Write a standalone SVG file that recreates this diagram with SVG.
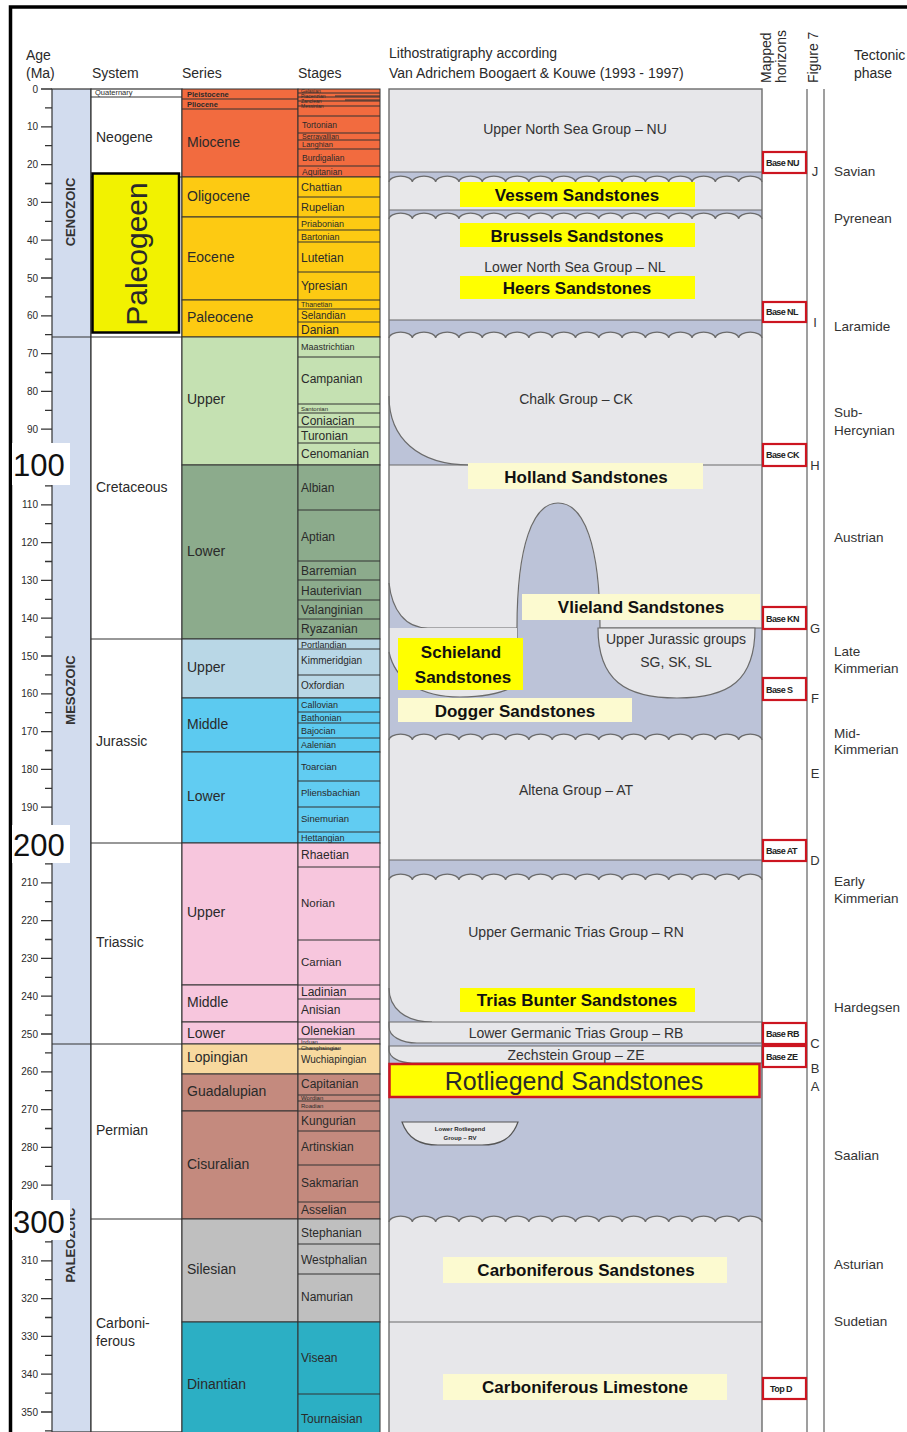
<svg xmlns="http://www.w3.org/2000/svg" xmlns:xlink="http://www.w3.org/1999/xlink" width="907" height="1432" viewBox="0 0 907 1432">
<defs>
<style>
text{font-family:"Liberation Sans",Arial,sans-serif;fill:#2a2a2a}
.hd{font-size:14px}
.ax{font-size:10px;text-anchor:end}
.er{font-size:13px;font-weight:bold;fill:#333}
.sy{font-size:14px}
.sr{font-size:14px}
.st{font-size:11px}
.cell{stroke:#333;stroke-width:1}
.neo{fill:#f26b3f}
.pal{fill:#fdca12}
.ucr{fill:#c5e1b2}
.lcr{fill:#8cab8c}
.uju{fill:#b9d7e6}
.mju{fill:#5ccaf0}
.lju{fill:#61ccf2}
.tri{fill:#f7c6dd}
.lop{fill:#f8d99f}
.per{fill:#c48a7e}
.sil{fill:#bfbfbf}
.din{fill:#2cafc4}
.gr{fill:#e7e7ea}
.bl{fill:#bcc3d8}
.ln{stroke:#6b6b6b;stroke-width:1.2;fill:none}
.wave{fill:#e7e7ea;stroke:#6b6b6b;stroke-width:1.2}
.gtx{font-size:14px;text-anchor:middle;fill:#333}
.sand{font-size:17px;font-weight:bold;text-anchor:middle;fill:#111}
.yb{fill:#ffff00}
.lyb{fill:#fcfad0}
.hz{fill:#fff;stroke:#cc1520;stroke-width:2.2}
.hzt{font-size:9px;font-weight:bold;fill:#222;letter-spacing:-0.6px}
.fg{font-size:13px;text-anchor:middle;fill:#333}
.tp{font-size:13.5px;fill:#333}
.big{font-size:31px;fill:#111}
</style>
<path id="wv" d="M0,0a11.66,6 0 0 1 23.31,0a11.66,6 0 0 1 23.31,0a11.66,6 0 0 1 23.31,0a11.66,6 0 0 1 23.31,0a11.66,6 0 0 1 23.31,0a11.66,6 0 0 1 23.31,0a11.66,6 0 0 1 23.31,0a11.66,6 0 0 1 23.31,0a11.66,6 0 0 1 23.31,0a11.66,6 0 0 1 23.31,0a11.66,6 0 0 1 23.31,0a11.66,6 0 0 1 23.31,0a11.66,6 0 0 1 23.31,0a11.66,6 0 0 1 23.31,0a11.66,6 0 0 1 23.31,0a11.66,6 0 0 1 23.31,0"/>
</defs>
<rect width="907" height="1432" fill="#fff"/>
<path d="M10.5,1432V7H907" fill="none" stroke="#000" stroke-width="3.5"/>

<g id="headers">
<text class="hd" x="26" y="60">Age</text>
<text class="hd" x="26" y="78">(Ma)</text>
<text class="hd" x="92" y="78">System</text>
<text class="hd" x="182" y="78">Series</text>
<text class="hd" x="298" y="78">Stages</text>
<text class="hd" x="389" y="58">Lithostratigraphy according</text>
<text class="hd" x="389" y="78">Van Adrichem Boogaert &amp; Kouwe (1993 - 1997)</text>
<text class="hd" font-size="13" transform="translate(771,83) rotate(-90)">Mapped</text>
<text class="hd" font-size="13" transform="translate(786,83) rotate(-90)">horizons</text>
<text class="hd" font-size="13" transform="translate(818,83) rotate(-90)">Figure 7</text>
<text class="hd" x="854" y="60">Tectonic</text>
<text class="hd" x="854" y="78">phase</text>
</g>

<g id="age-axis">
<path stroke="#333" stroke-width="1.3" fill="none" d="M41,89H52M45,107.9H52M41,126.8H52M45,145.7H52M41,164.6H52M45,183.5H52M41,202.4H52M45,221.3H52M41,240.2H52M45,259.1H52M41,278H52M45,296.9H52M41,315.8H52M45,334.7H52M41,353.6H52M45,372.5H52M41,391.4H52M45,410.3H52M41,429.2H52M45,448.1H52M41,467H52M45,485.9H52M41,504.8H52M45,523.7H52M41,542.6H52M45,561.5H52M41,580.4H52M45,599.3H52M41,618.2H52M45,637.1H52M41,656H52M45,674.9H52M41,693.8H52M45,712.7H52M41,731.6H52M45,750.5H52M41,769.4H52M45,788.3H52M41,807.2H52M45,826.1H52M41,845H52M45,863.9H52M41,882.8H52M45,901.7H52M41,920.6H52M45,939.5H52M41,958.4H52M45,977.3H52M41,996.2H52M45,1015.1H52M41,1034H52M45,1052.9H52M41,1071.8H52M45,1090.7H52M41,1109.6H52M45,1128.5H52M41,1147.4H52M45,1166.3H52M41,1185.2H52M45,1204.1H52M41,1223H52M45,1241.9H52M41,1260.8H52M45,1279.7H52M41,1298.6H52M45,1317.5H52M41,1336.4H52M45,1355.3H52M41,1374.2H52M45,1393.1H52M41,1412H52M45,1430.9H52"/>
<text class="ax" x="38" y="92.5">0</text>
<text class="ax" x="38" y="130.3">10</text>
<text class="ax" x="38" y="168.1">20</text>
<text class="ax" x="38" y="205.9">30</text>
<text class="ax" x="38" y="243.7">40</text>
<text class="ax" x="38" y="281.5">50</text>
<text class="ax" x="38" y="319.3">60</text>
<text class="ax" x="38" y="357.1">70</text>
<text class="ax" x="38" y="394.9">80</text>
<text class="ax" x="38" y="432.7">90</text>
<text class="ax" x="38" y="508.3">110</text>
<text class="ax" x="38" y="546.1">120</text>
<text class="ax" x="38" y="583.9">130</text>
<text class="ax" x="38" y="621.7">140</text>
<text class="ax" x="38" y="659.5">150</text>
<text class="ax" x="38" y="697.3">160</text>
<text class="ax" x="38" y="735.1">170</text>
<text class="ax" x="38" y="772.9">180</text>
<text class="ax" x="38" y="810.7">190</text>
<text class="ax" x="38" y="886.3">210</text>
<text class="ax" x="38" y="924.1">220</text>
<text class="ax" x="38" y="961.9">230</text>
<text class="ax" x="38" y="999.7">240</text>
<text class="ax" x="38" y="1037.5">250</text>
<text class="ax" x="38" y="1075.3">260</text>
<text class="ax" x="38" y="1113.1">270</text>
<text class="ax" x="38" y="1150.9">280</text>
<text class="ax" x="38" y="1188.7">290</text>
<text class="ax" x="38" y="1264.3">310</text>
<text class="ax" x="38" y="1302.1">320</text>
<text class="ax" x="38" y="1339.9">330</text>
<text class="ax" x="38" y="1377.7">340</text>
<text class="ax" x="38" y="1415.5">350</text>
</g>

<g id="erathem">
<rect x="52" y="89" width="39" height="1343" fill="#d2dcee" stroke="#333" stroke-width="1.2"/>
<path d="M52,337H91M52,1044H91" stroke="#333" stroke-width="1.2"/>
<text class="er" transform="translate(75,212) rotate(-90)" text-anchor="middle">CENOZOIC</text>
<text class="er" transform="translate(75,690) rotate(-90)" text-anchor="middle">MESOZOIC</text>
<text class="er" transform="translate(75,1245) rotate(-90)" text-anchor="middle">PALEOZOIC</text>
</g>

<g id="system">
<rect x="91" y="89" width="91" height="1343" fill="#fff" stroke="#333" stroke-width="1.2"/>
<path d="M91,97H182M91,177H182M91,337H182M91,639H182M91,843H182M91,1044H182M91,1219H182" stroke="#333" stroke-width="1.2"/>
<text x="95" y="95" font-size="7.5">Quaternary</text>
<text class="sy" x="96" y="142">Neogene</text>
<rect x="92.5" y="173.5" width="86.5" height="159" fill="#f2f200" stroke="#000" stroke-width="2.5"/>
<text transform="translate(147,254) rotate(-90)" text-anchor="middle" font-size="30" fill="#111">Paleogeen</text>
<text class="sy" x="96" y="492">Cretaceous</text>
<text class="sy" x="96" y="746">Jurassic</text>
<text class="sy" x="96" y="947">Triassic</text>
<text class="sy" x="96" y="1135">Permian</text>
<text class="sy" x="96" y="1328">Carboni-</text>
<text class="sy" x="96" y="1346">ferous</text>
</g>

<g id="series">
<rect class="cell neo" x="182" y="89" width="116" height="88"/>
<path d="M182,99H298M182,109H298" stroke="#333"/>
<text x="187" y="97" font-size="7.5" font-weight="bold">Pleistocene</text>
<text x="187" y="107" font-size="7.5" font-weight="bold">Pliocene</text>
<text class="sr" x="187" y="147">Miocene</text>
<rect class="cell pal" x="182" y="177" width="116" height="40"/>
<text class="sr" x="187" y="201">Oligocene</text>
<rect class="cell pal" x="182" y="217" width="116" height="83"/>
<text class="sr" x="187" y="262">Eocene</text>
<rect class="cell pal" x="182" y="300" width="116" height="37"/>
<text class="sr" x="187" y="322">Paleocene</text>
<rect class="cell ucr" x="182" y="337" width="116" height="128"/>
<text class="sr" x="187" y="404">Upper</text>
<rect class="cell lcr" x="182" y="465" width="116" height="174"/>
<text class="sr" x="187" y="556">Lower</text>
<rect class="cell uju" x="182" y="639" width="116" height="59"/>
<text class="sr" x="187" y="672">Upper</text>
<rect class="cell mju" x="182" y="698" width="116" height="54"/>
<text class="sr" x="187" y="729">Middle</text>
<rect class="cell lju" x="182" y="752" width="116" height="91"/>
<text class="sr" x="187" y="801">Lower</text>
<rect class="cell tri" x="182" y="843" width="116" height="142"/>
<text class="sr" x="187" y="917">Upper</text>
<rect class="cell tri" x="182" y="985" width="116" height="37"/>
<text class="sr" x="187" y="1007">Middle</text>
<rect class="cell tri" x="182" y="1022" width="116" height="22"/>
<text class="sr" x="187" y="1038">Lower</text>
<rect class="cell lop" x="182" y="1044" width="116" height="30"/>
<text class="sr" x="187" y="1062">Lopingian</text>
<rect class="cell per" x="182" y="1074" width="116" height="37"/>
<text class="sr" x="187" y="1096">Guadalupian</text>
<rect class="cell per" x="182" y="1111" width="116" height="108"/>
<text class="sr" x="187" y="1169">Cisuralian</text>
<rect class="cell sil" x="182" y="1219" width="116" height="103"/>
<text class="sr" x="187" y="1274">Silesian</text>
<rect class="cell din" x="182" y="1322" width="116" height="112"/>
<text class="sr" x="187" y="1389">Dinantian</text>
</g>

<g id="stages">
<rect class="cell neo" x="298" y="89" width="82" height="88"/>
<path class="cell" d="M298,93H380M298,97H380M298,101H380M298,106H380M298,116H380M298,133H380M298,140H380M298,149H380M298,166H380M335,96H380M345,100H380" fill="none"/>
<text x="301" y="93" font-size="5">Gelasian</text>
<text x="301" y="98" font-size="5">Piacenzian</text>
<text x="301" y="103" font-size="5">Zanclean</text>
<text x="301" y="108" font-size="5">Messinian</text>
<text x="302" y="128" font-size="8.5">Tortonian</text>
<text x="302" y="139" font-size="7">Serravallian</text>
<text x="302" y="147" font-size="7.5">Langhian</text>
<text x="302" y="161" font-size="8.5">Burdigalian</text>
<text x="302" y="175" font-size="8.5">Aquitanian</text>

<rect class="cell pal" x="298" y="177" width="82" height="160"/>
<path class="cell" d="M298,197H380M298,217H380M298,230H380M298,242H380M298,272H380M298,300H380M298,309H380M298,322H380" fill="none"/>
<text class="st" x="301" y="191" font-size="12">Chattian</text>
<text class="st" x="301" y="211" font-size="12">Rupelian</text>
<text x="301" y="227" font-size="9">Priabonian</text>
<text x="301" y="240" font-size="9">Bartonian</text>
<text x="301" y="262" font-size="12">Lutetian</text>
<text x="301" y="290" font-size="12">Ypresian</text>
<text x="301" y="307" font-size="7">Thanetian</text>
<text x="301" y="319" font-size="10">Selandian</text>
<text x="301" y="334" font-size="12">Danian</text>

<rect class="cell ucr" x="298" y="337" width="82" height="128"/>
<path class="cell" d="M298,357H380M298,404H380M298,413H380M298,427H380M298,443H380" fill="none"/>
<text x="301" y="350" font-size="9">Maastrichtian</text>
<text x="301" y="383" font-size="12">Campanian</text>
<text x="301" y="411" font-size="6">Santonian</text>
<text x="301" y="425" font-size="12">Coniacian</text>
<text x="301" y="440" font-size="12">Turonian</text>
<text x="301" y="458" font-size="12">Cenomanian</text>

<rect class="cell lcr" x="298" y="465" width="82" height="174"/>
<path class="cell" d="M298,510H380M298,561H380M298,580H380M298,600H380M298,619H380" fill="none"/>
<text x="301" y="492" font-size="12">Albian</text>
<text x="301" y="541" font-size="12">Aptian</text>
<text x="301" y="575" font-size="12">Barremian</text>
<text x="301" y="595" font-size="12">Hauterivian</text>
<text x="301" y="614" font-size="12">Valanginian</text>
<text x="301" y="633" font-size="12">Ryazanian</text>

<rect class="cell uju" x="298" y="639" width="82" height="59"/>
<path class="cell" d="M298,649H380M298,675H380" fill="none"/>
<text x="301" y="648" font-size="9">Portlandian</text>
<text x="301" y="664" font-size="10">Kimmeridgian</text>
<text x="301" y="689" font-size="10">Oxfordian</text>
<rect class="cell mju" x="298" y="698" width="82" height="54"/>
<path class="cell" d="M298,712H380M298,723H380M298,738H380" fill="none"/>
<text x="301" y="708" font-size="9">Callovian</text>
<text x="301" y="721" font-size="9">Bathonian</text>
<text x="301" y="734" font-size="9">Bajocian</text>
<text x="301" y="748" font-size="9">Aalenian</text>
<rect class="cell lju" x="298" y="752" width="82" height="91"/>
<path class="cell" d="M298,781H380M298,807H380M298,832H380" fill="none"/>
<text x="301" y="770" font-size="9.5">Toarcian</text>
<text x="301" y="796" font-size="9.5">Pliensbachian</text>
<text x="301" y="822" font-size="9.5">Sinemurian</text>
<text x="301" y="841" font-size="9">Hettangian</text>

<rect class="cell tri" x="298" y="843" width="82" height="201"/>
<path class="cell" d="M298,867H380M298,940H380M298,985H380M298,999H380M298,1022H380M298,1039H380" fill="none"/>
<text x="301" y="859" font-size="12">Rhaetian</text>
<text x="301" y="907" font-size="11.5">Norian</text>
<text x="301" y="966" font-size="11.5">Carnian</text>
<text x="301" y="996" font-size="12">Ladinian</text>
<text x="301" y="1014" font-size="12">Anisian</text>
<text x="301" y="1035" font-size="12">Olenekian</text>
<text x="301" y="1044" font-size="5.5">Induan</text>

<rect class="cell lop" x="298" y="1044" width="82" height="30"/>
<path class="cell" d="M298,1049H340" fill="none"/>
<text x="301" y="1050" font-size="6">Changhsingian</text>
<text x="301" y="1063" font-size="10">Wuchiapingian</text>
<rect class="cell per" x="298" y="1074" width="82" height="145"/>
<path class="cell" d="M298,1095H380M298,1101H380M298,1111H380M298,1131H380M298,1165H380M298,1202H380" fill="none"/>
<text x="301" y="1088" font-size="12">Capitanian</text>
<text x="301" y="1100" font-size="6">Wordian</text>
<text x="301" y="1108" font-size="6">Roadian</text>
<text x="301" y="1125" font-size="12">Kungurian</text>
<text x="301" y="1151" font-size="12">Artinskian</text>
<text x="301" y="1187" font-size="12">Sakmarian</text>
<text x="301" y="1214" font-size="12">Asselian</text>

<rect class="cell sil" x="298" y="1219" width="82" height="103"/>
<path class="cell" d="M298,1244H380M298,1274H380" fill="none"/>
<text x="301" y="1237" font-size="12">Stephanian</text>
<text x="301" y="1264" font-size="12">Westphalian</text>
<text x="301" y="1301" font-size="12">Namurian</text>
<rect class="cell din" x="298" y="1322" width="82" height="112"/>
<path class="cell" d="M298,1394H380" fill="none"/>
<text x="301" y="1362" font-size="12">Visean</text>
<text x="301" y="1423" font-size="12">Tournaisian</text>
</g>

<g id="litho">
<rect class="gr" x="389" y="89" width="373" height="1343"/>
<rect class="bl" x="389" y="172" width="373" height="10"/>
<use xlink:href="#wv" href="#wv" class="wave" x="389" y="182"/>
<rect class="bl" x="389" y="210" width="373" height="9"/>
<use xlink:href="#wv" href="#wv" class="wave" x="389" y="219"/>
<rect class="bl" x="389" y="320" width="373" height="18"/>
<use xlink:href="#wv" href="#wv" class="wave" x="389" y="338"/>
<path class="ln" d="M389,172H762M389,210H762M389,320H762"/>
<path class="bl" d="M389,396C389,438 418,465 470,465H389Z"/>
<path class="ln" d="M389,396C389,438 418,465 470,465"/>
<path class="ln" d="M389,465H762"/>
<rect class="bl" x="389" y="628" width="373" height="112"/>
<path class="bl" d="M389,583C392,610 405,628 428,628H389Z"/>
<path class="ln" d="M389,583C392,610 405,628 428,628H517M600,628H762"/>
<path class="bl" d="M517,640C517,545 533,503 558,503C584,503 600,545 600,640Z"/>
<path class="ln" d="M517,690V628C517,545 533,503 558,503C584,503 600,545 600,628"/>
<path class="gr" d="M389,628H517V684C505,693 485,697 460,697C420,697 395,680 389,652Z"/>
<path class="ln" d="M389,652C395,680 420,697 460,697C485,697 505,693 517,684"/>
<path class="gr" d="M598,628C598,680 625,698 677,698C730,698 755,680 755,628Z" stroke="#6b6b6b" stroke-width="1.2"/>
<use xlink:href="#wv" href="#wv" class="wave" x="389" y="740"/>
<rect class="bl" x="389" y="860" width="373" height="20"/>
<use xlink:href="#wv" href="#wv" class="wave" x="389" y="880"/>
<path class="ln" d="M389,860H762"/>
<rect class="bl" x="389" y="1022" width="373" height="200"/>
<path class="bl" d="M389,988C389,1008 405,1022 432,1022H389Z"/>
<path class="ln" d="M389,988C389,1008 405,1022 432,1022"/>
<path class="gr" d="M389,1022H762V1043H417C401,1043 389,1036 389,1027Z" stroke="#6b6b6b" stroke-width="1.2"/>
<path class="gr" d="M389,1046H762V1063H412C399,1063 389,1057 389,1050Z" stroke="#6b6b6b" stroke-width="1.2"/>
<use xlink:href="#wv" href="#wv" class="wave" x="389" y="1222"/>
<path class="gr" d="M402,1122H518C512,1139 500,1145 482,1145H438C420,1145 408,1139 402,1122Z" stroke="#555" stroke-width="1.2"/>
<path class="ln" d="M389,1322H762"/>
<rect x="389" y="89" width="373" height="1350" fill="none" stroke="#6b6b6b" stroke-width="1.4"/>
</g>

<g id="litho-labels">
<text class="gtx" x="575" y="134">Upper North Sea Group – NU</text>
<rect class="yb" x="460" y="182" width="235" height="25"/>
<text class="sand" x="577" y="201">Vessem  Sandstones</text>
<rect class="yb" x="460" y="223" width="235" height="24"/>
<text class="sand" x="577" y="242">Brussels  Sandstones</text>
<text class="gtx" x="575" y="272" font-size="13">Lower North Sea Group – NL</text>
<rect class="yb" x="460" y="276" width="235" height="23"/>
<text class="sand" x="577" y="294">Heers  Sandstones</text>
<text class="gtx" x="576" y="404">Chalk Group – CK</text>
<rect class="lyb" x="468" y="463" width="235" height="26"/>
<text class="sand" x="586" y="483">Holland  Sandstones</text>
<rect class="lyb" x="522" y="594" width="238" height="26"/>
<text class="sand" x="641" y="613">Vlieland  Sandstones</text>
<text class="gtx" x="676" y="644" font-size="13.5">Upper Jurassic groups</text>
<text class="gtx" x="676" y="667" font-size="13.5">SG, SK, SL</text>
<rect class="yb" x="398" y="638" width="125" height="52"/>
<text class="sand" x="461" y="658">Schieland</text>
<text class="sand" x="463" y="683">Sandstones</text>
<rect class="lyb" x="398" y="698" width="234" height="24"/>
<text class="sand" x="515" y="717">Dogger Sandstones</text>
<text class="gtx" x="576" y="795">Altena Group – AT</text>
<text class="gtx" x="576" y="937">Upper Germanic Trias Group – RN</text>
<rect class="yb" x="460" y="988" width="235" height="24"/>
<text class="sand" x="577" y="1006">Trias Bunter Sandstones</text>
<text class="gtx" x="576" y="1038" font-size="13">Lower Germanic Trias Group – RB</text>
<text class="gtx" x="576" y="1060" font-size="13">Zechstein Group – ZE</text>
<rect x="389.5" y="1064" width="370" height="33" fill="#ffff00" stroke="#cc1520" stroke-width="2.5"/>
<text x="574" y="1090" font-size="25" text-anchor="middle" fill="#111">Rotliegend Sandstones</text>
<text x="460" y="1131" font-size="6" font-weight="bold" text-anchor="middle">Lower Rotliegend</text>
<text x="460" y="1140" font-size="6" font-weight="bold" text-anchor="middle">Group – RV</text>
<rect class="lyb" x="443" y="1257" width="284" height="26"/>
<text class="sand" x="586" y="1276">Carboniferous Sandstones</text>
<rect class="lyb" x="443" y="1374" width="284" height="26"/>
<text class="sand" x="585" y="1393">Carboniferous Limestone</text>
</g>

<g id="right-columns">
<path d="M807,89V1432M824,89V1432" stroke="#777" stroke-width="1.4"/>
</g>

<g id="horizons">
<rect class="hz" x="763" y="152" width="43" height="21"/><text class="hzt" x="766" y="166">Base NU</text>
<rect class="hz" x="763" y="302" width="43" height="20"/><text class="hzt" x="766" y="315">Base NL</text>
<rect class="hz" x="763" y="444" width="43" height="22"/><text class="hzt" x="766" y="458">Base CK</text>
<rect class="hz" x="763" y="607" width="43" height="22"/><text class="hzt" x="766" y="622">Base KN</text>
<rect class="hz" x="763" y="678" width="43" height="22"/><text class="hzt" x="766" y="693">Base S</text>
<rect class="hz" x="763" y="840" width="43" height="21"/><text class="hzt" x="766" y="854">Base AT</text>
<rect class="hz" x="763" y="1023" width="43" height="21"/><text class="hzt" x="766" y="1037">Base RB</text>
<rect class="hz" x="763" y="1046" width="43" height="21"/><text class="hzt" x="766" y="1060">Base ZE</text>
<rect class="hz" x="763" y="1378" width="43" height="21"/><text class="hzt" x="770" y="1392">Top D</text>
</g>

<g id="figure7">
<text class="fg" x="815" y="176">J</text>
<text class="fg" x="815" y="327">I</text>
<text class="fg" x="815" y="470">H</text>
<text class="fg" x="815" y="633">G</text>
<text class="fg" x="815" y="703">F</text>
<text class="fg" x="815" y="778">E</text>
<text class="fg" x="815" y="865">D</text>
<text class="fg" x="815" y="1048">C</text>
<text class="fg" x="815" y="1073">B</text>
<text class="fg" x="815" y="1091">A</text>
</g>

<g id="tectonic">
<text class="tp" x="834" y="176">Savian</text>
<text class="tp" x="834" y="223">Pyrenean</text>
<text class="tp" x="834" y="331">Laramide</text>
<text class="tp" x="834" y="417">Sub-</text>
<text class="tp" x="834" y="435">Hercynian</text>
<text class="tp" x="834" y="542">Austrian</text>
<text class="tp" x="834" y="656">Late</text>
<text class="tp" x="834" y="673">Kimmerian</text>
<text class="tp" x="834" y="738">Mid-</text>
<text class="tp" x="834" y="754">Kimmerian</text>
<text class="tp" x="834" y="886">Early</text>
<text class="tp" x="834" y="903">Kimmerian</text>
<text class="tp" x="834" y="1012">Hardegsen</text>
<text class="tp" x="834" y="1160">Saalian</text>
<text class="tp" x="834" y="1269">Asturian</text>
<text class="tp" x="834" y="1326">Sudetian</text>
</g>

<g id="big-ages">
<rect x="12" y="443" width="58" height="42" fill="#fff"/>
<text class="big" x="13" y="476">100</text>
<rect x="12" y="825" width="58" height="38" fill="#fff"/>
<text class="big" x="13" y="856">200</text>
<rect x="12" y="1200" width="58" height="40" fill="#fff"/>
<text class="big" x="13" y="1233">300</text>
</g>
</svg>
